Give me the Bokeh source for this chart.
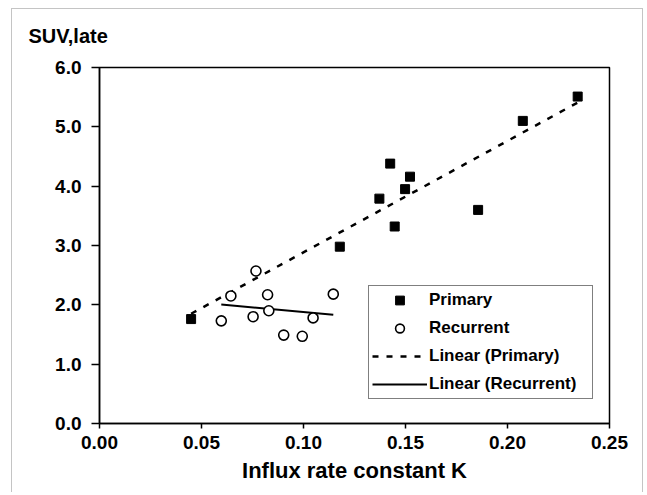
import numpy as np
from bokeh.plotting import figure
from bokeh.models import (Range1d, Title, Legend, LegendItem, FixedTicker,
                          NumeralTickFormatter)
from bokeh.embed import file_html
from bokeh.resources import INLINE

# ---- data ----
primary_k = [0.0449, 0.1178, 0.1372, 0.1425, 0.1447, 0.1498, 0.1522, 0.1856, 0.2075, 0.2344]
primary_suv = [1.76, 2.98, 3.79, 4.38, 3.32, 3.95, 4.16, 3.60, 5.10, 5.51]

recurrent_k = [0.0597, 0.0644, 0.0753, 0.0767, 0.0824, 0.0830, 0.0903, 0.0994, 0.1047, 0.1146]
recurrent_suv = [1.73, 2.15, 1.80, 2.57, 2.17, 1.90, 1.49, 1.47, 1.78, 2.18]

x_ticks = [0.0, 0.05, 0.10, 0.15, 0.20, 0.25]
y_ticks = [0, 1, 2, 3, 4, 5, 6]

FONT = "Liberation Sans"

p = figure(width=632, height=484, output_backend="svg", toolbar_location=None,
           x_range=Range1d(0, 0.25), y_range=Range1d(0, 6),
           min_border_left=87, min_border_right=35,
           min_border_top=58, min_border_bottom=70)
p.styles = {"margin-left": "11px", "margin-top": "8px",
            "border-left": "1px solid #c4c4c4", "border-top": "1px solid #c4c4c4",
            "border-right": "1px solid #c4c4c4"}
p.background_fill_color = "white"
p.border_fill_color = "white"
p.xgrid.visible = False
p.ygrid.visible = False
p.outline_line_color = "black"
p.outline_line_width = 1.5

# axes
for ax in (p.xaxis[0], p.yaxis[0]):
    ax.axis_line_color = "black"
    ax.axis_line_width = 1.5
    ax.major_tick_line_color = "black"
    ax.major_tick_line_width = 1.5
    ax.minor_tick_line_color = None
    ax.major_tick_in = 0
    ax.major_label_text_font = FONT
    ax.major_label_text_font_style = "bold"
    ax.major_label_text_font_size = "19px"
    ax.major_label_text_color = "black"

p.xaxis.ticker = FixedTicker(ticks=x_ticks)
p.xaxis.formatter = NumeralTickFormatter(format="0.00")
p.xaxis.major_tick_out = 5
p.xaxis.major_label_standoff = 7
p.xaxis.axis_label = "Influx rate constant K"
p.xaxis.axis_label_text_font = FONT
p.xaxis.axis_label_text_font_style = "bold"
p.xaxis.axis_label_text_font_size = "22px"
p.xaxis.axis_label_text_color = "black"
p.xaxis.axis_label_standoff = 6

p.yaxis.ticker = FixedTicker(ticks=y_ticks)
p.yaxis.formatter = NumeralTickFormatter(format="0.0")
p.yaxis.major_tick_out = 8
p.yaxis.major_label_standoff = 10

# trend lines (least squares, as in the spreadsheet)
pk = np.array(primary_k); ps = np.array(primary_suv)
rk = np.array(recurrent_k); rs = np.array(recurrent_suv)
m1, b1 = np.polyfit(pk, ps, 1)
m2, b2 = np.polyfit(rk, rs, 1)
px_line = [pk.min(), pk.max()]
rx_line = [rk.min(), rk.max()]

r_pl = p.line(px_line, [m1 * x + b1 for x in px_line], line_color="black",
              line_width=2.5, line_dash="6 8")
r_rl = p.line(rx_line, [m2 * x + b2 for x in rx_line], line_color="black",
              line_width=2)

r_p = p.scatter(primary_k, primary_suv, marker="square", size=9,
                fill_color="black", line_color="black")
r_r = p.scatter(recurrent_k, recurrent_suv, marker="circle", size=10,
                fill_color="white", line_color="black", line_width=1.6)

legend = Legend(items=[
    LegendItem(label="Primary", renderers=[r_p]),
    LegendItem(label="Recurrent", renderers=[r_r]),
    LegendItem(label="Linear (Primary)", renderers=[r_pl]),
    LegendItem(label="Linear (Recurrent)", renderers=[r_rl]),
], location=(269, 24))
legend.border_line_color = "black"
legend.border_line_width = 1.5
legend.background_fill_color = "white"
legend.background_fill_alpha = 1.0
legend.label_text_font = FONT
legend.label_text_font_style = "bold"
legend.label_text_font_size = "17px"
legend.label_text_color = "black"
legend.glyph_width = 55
legend.glyph_height = 22
legend.label_height = 22
legend.label_width = 160
legend.label_standoff = 2
legend.spacing = 6
legend.padding = 3
legend.margin = 0
p.add_layout(legend, "center")

# empty spacer title next to the frame, then the y-axis caption above it
p.add_layout(Title(text=" ", standoff=7, text_font=FONT,
                   text_font_size="11px"), "above")
p.add_layout(Title(text="SUV,late", align="left", offset=-71, standoff=0,
                   text_font=FONT, text_font_style="bold", text_font_size="20px",
                   text_color="black"), "above")

open("out.html", "w").write(file_html(p, INLINE))
